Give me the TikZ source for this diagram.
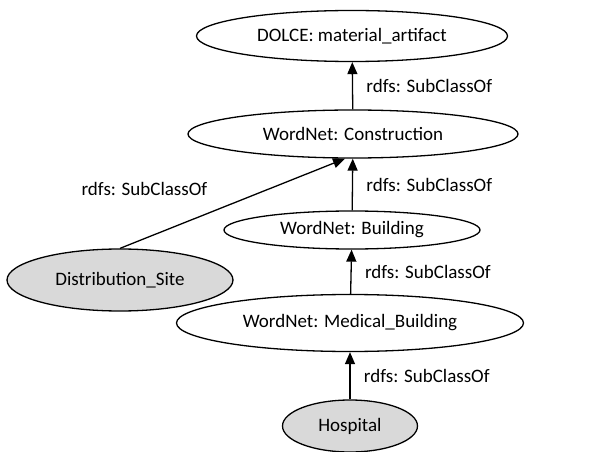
\documentclass[tikz,border=0pt]{standalone}
\usepackage{fontspec}
\setmainfont{Carlito}
\usetikzlibrary{shapes.geometric,arrows.meta}
\tikzstyle{concept} = [ellipse, draw=black, line width=1.3pt, inner sep=0pt, text centered]
\tikzstyle{instance} = [ellipse, draw=black, line width=1.3pt, inner sep=0pt, text centered, fill=gray!30]
\tikzstyle{arrow} = [line width=1.3pt, -{Triangle[length=12pt,width=10pt]}]
\tikzstyle{rel} = [right, xshift=10pt]

\begin{document}
\begin{tikzpicture}[x=1pt, y=-1pt, font=\fontsize{19}{23}\selectfont]
    \useasboundingbox (0,0) rectangle (595,452);
    \node (dolce) [concept, minimum width=311pt, minimum height=51pt] at (352,36) {DOLCE: material\_artifact};
    \node (construction) [concept, minimum width=330pt, minimum height=48pt] at (353,134) {WordNet: Construction};
    \node (building) [concept, minimum width=256pt, minimum height=38pt] at (352,230) {WordNet: Building};
    \node (medical) [concept, minimum width=347pt, minimum height=57pt] at (350,323) {WordNet: Medical\_Building};
    \node (hospital) [instance, minimum width=135pt, minimum height=52pt] at (350,426) {Hospital};
    \node (distsite) [instance, minimum width=226pt, minimum height=62pt] at (120,280) {Distribution\_Site};

    \draw [arrow] (construction) -- node[rel] {rdfs: SubClassOf} (dolce);
    \draw [arrow] (building) -- node[rel] {rdfs: SubClassOf} (construction);
    \draw [arrow] (medical) -- node[rel] {rdfs: SubClassOf} (building);
    \draw [arrow] (hospital) -- node[rel] {rdfs: SubClassOf} (medical);
    \draw [arrow] (distsite.north) -- node[pos=0.45, above left, xshift=-10pt, yshift=8pt] {rdfs: SubClassOf} ([xshift=-8pt]construction.south);
\end{tikzpicture}
\end{document}
